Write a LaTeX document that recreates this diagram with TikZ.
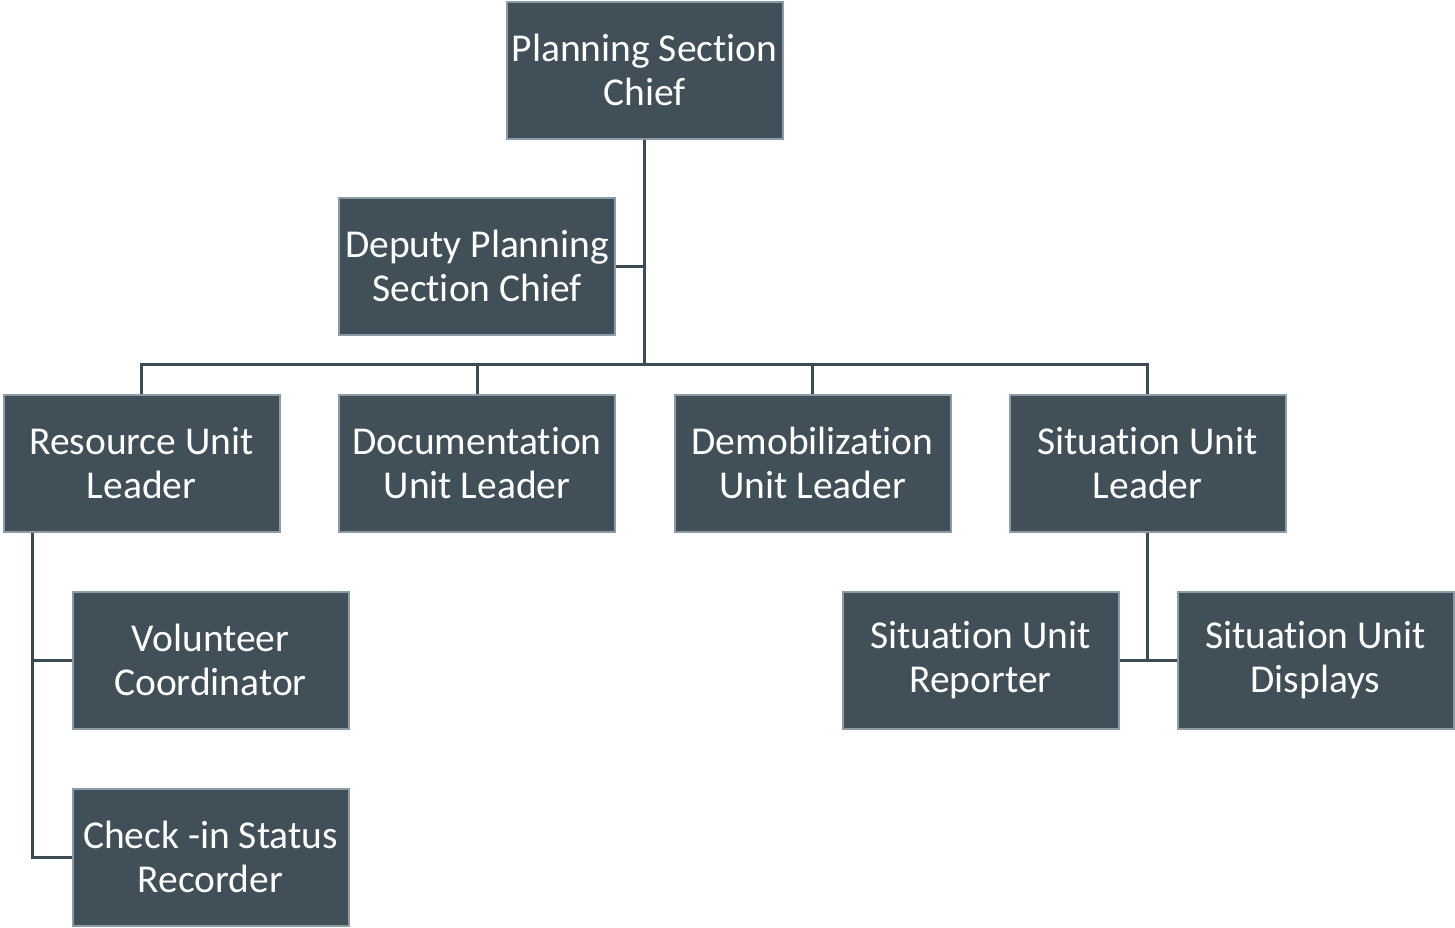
\documentclass[tikz,border=0pt]{standalone}
\usepackage{fontspec}
\setmainfont[Ligatures=NoCommon]{Carlito}
\definecolor{boxfill}{HTML}{414F58}
\definecolor{boxline}{HTML}{8C9CA6}
\definecolor{conn}{HTML}{3B4A53}
\begin{document}
\begin{tikzpicture}[x=1pt,y=-1pt,
  orgbox/.style={draw=boxline, line width=2pt, fill=boxfill, text=white,
    minimum width=276pt, minimum height=137pt, inner sep=0pt, align=center,
    font=\fontsize{39.5}{44}\selectfont},
  link/.style={draw=conn, line width=3pt}]
\useasboundingbox (0,0) rectangle (1455,927);
\node[orgbox] (chief) at (644.5,70) {Planning Section\\Chief};
\node[orgbox] (deputy) at (477,266) {Deputy Planning\\Section Chief};
\node[orgbox] (res) at (141.5,463) {Resource Unit\\Leader};
\node[orgbox] (doc) at (477,463) {Documentation\\Unit Leader};
\node[orgbox] (demob) at (812.5,463) {Demobilization\\Unit Leader};
\node[orgbox] (sit) at (1147.5,463) {Situation Unit\\Leader};
\node[orgbox] (vol) at (210.5,660) {Volunteer\\Coordinator};
\node[orgbox] (chk) at (210.5,857) {Check -in Status\\Recorder};
\node[orgbox] (rep) at (980.5,660) {Situation Unit\\Reporter};
\node[orgbox] (disp) at (1315.5,660) {Situation Unit\\Displays};
\coordinate (bus) at (644.5,364);
\coordinate (rtrunk) at (32,0);
% chief trunk
\draw[link] (chief.south) -- (bus);
\draw[link] (deputy.east) -- (deputy.east -| chief.south);
\draw[link] (res.north) |- (bus) -| (sit.north);
\draw[link] (doc.north) -- (doc.north |- bus);
\draw[link] (demob.north) -- (demob.north |- bus);
% resource subtree
\draw[link] (res.south -| rtrunk) |- (vol.west);
\draw[link] (res.south -| rtrunk) |- (chk.west);
% situation subtree
\draw[link] (sit.south) -- (sit.south |- rep.east);
\draw[link] (rep.east) -- (disp.west);
\end{tikzpicture}
\end{document}
